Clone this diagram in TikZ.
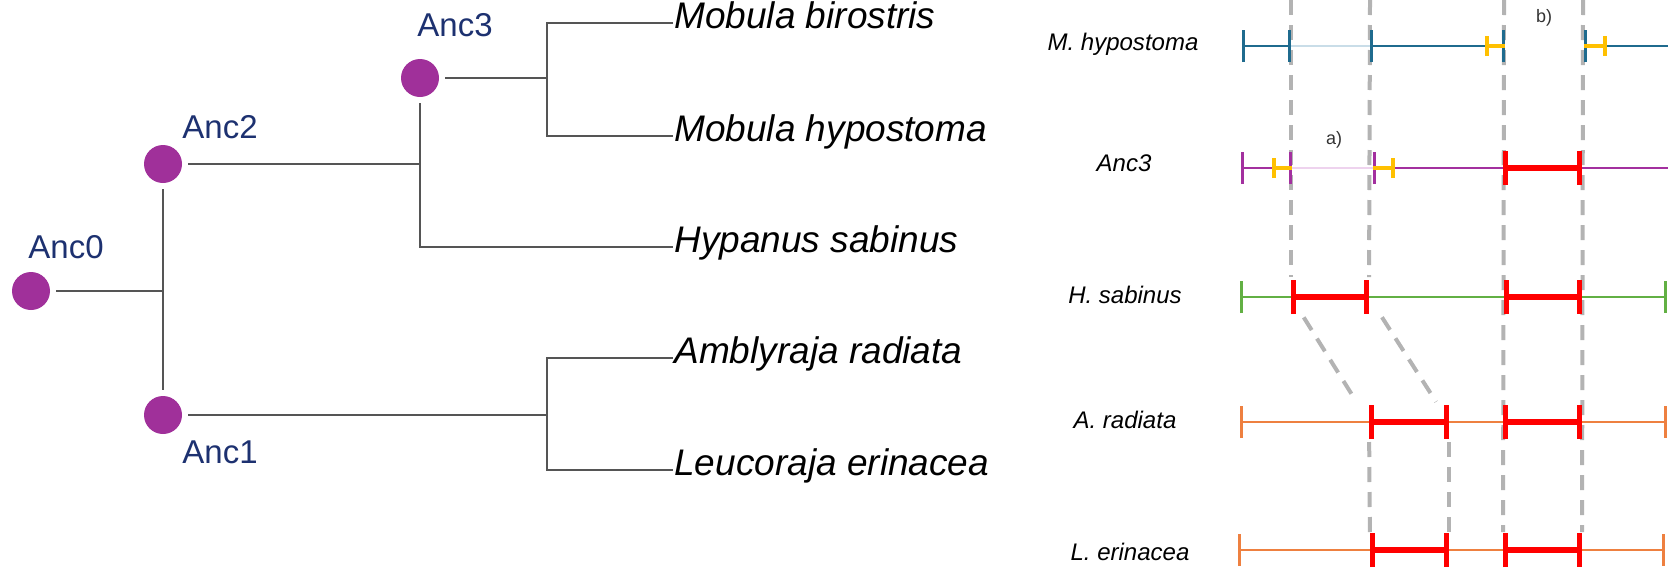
\documentclass[tikz,border=0pt]{standalone}
\usepackage{fontspec}
\setmainfont{Liberation Sans}
\usepackage{tikz}
\usetikzlibrary{arrows.meta,positioning,calc}
\definecolor{RayGray}{HTML}{555555}
\definecolor{RayPurple}{HTML}{A0309A}
\definecolor{RayNavy}{HTML}{1D3170}
\definecolor{RayGuide}{HTML}{B3B3B3}
\definecolor{RayTeal}{HTML}{1F6B8E}
\definecolor{RayTealPale}{HTML}{C9DDE8}
\definecolor{RayMagenta}{HTML}{A3309F}
\definecolor{RayMagentaPale}{HTML}{EED3EE}
\definecolor{RayGreen}{HTML}{62B044}
\definecolor{RayOrange}{HTML}{EE8040}
\definecolor{RayRed}{HTML}{FF0000}
\definecolor{RayYellow}{HTML}{FFC000}
\definecolor{RayNote}{HTML}{333333}

\begin{document}
\begin{tikzpicture}[x=0.5pt,y=-0.5pt,
    branch/.style={draw=RayGray, line width=1.25pt},
    ancnode/.style={circle, fill=RayPurple, minimum size=19pt, inner sep=0pt, outer sep=3pt},
    anclabel/.style={anchor=west, inner sep=0pt, text=RayNavy, font=\fontsize{16.5}{18}\selectfont},
    taxon/.style={anchor=mid west, inner sep=0.5pt, font=\itshape\fontsize{18.5}{20}\selectfont},
    rowlabel/.style={inner sep=0pt, font=\itshape\fontsize{12}{14}\selectfont},
    note/.style={inner sep=0pt, text=RayNote, font=\fontsize{9}{10}\selectfont},
    guide/.style={draw=RayGuide, line width=2pt, dash pattern=on 7.5pt off 5pt},
    span/.style={line width=1.4pt, {Bar[width=16pt]}-{Bar[width=16pt]}},
    hit/.style={draw=RayRed, line width=2.6pt, {Bar[width=17pt]}-{Bar[width=17pt]}},
    indel/.style={draw=RayYellow, line width=2pt},
    faint/.style={line width=1pt}]
    \useasboundingbox (0,0) rectangle (1668,568);

    % tree
    \node[ancnode] (anc0) at (31,291) {};
    \node[ancnode] (anc2) at (163,164) {};
    \node[ancnode] (anc1) at (163,415) {};
    \node[ancnode] (anc3) at (420,78) {};
    \node[anclabel] (lab0) at (28,247) {Anc0};
    \node[anclabel] (lab2) at (182,127) {Anc2};
    \node[anclabel] (lab1) at (182,452) {Anc1};
    \node[anclabel] (lab3) at (417,25) {Anc3};

    \node[taxon] (mbir) at (673,23) {Mobula birostris};
    \node[taxon] (mhyp) at (673,136) {Mobula hypostoma};
    \node[taxon] (hsab) at (673,247) {Hypanus sabinus};
    \node[taxon] (arad) at (673,358) {Amblyraja radiata};
    \node[taxon] (leri) at (673,470) {Leucoraja erinacea};
    \coordinate (split3) at (547,78);
    \coordinate (split1) at (547,415);

    \draw[branch] (anc0.east) -- (anc0.east -| anc2.south);
    \draw[branch] (anc2.south) -- (anc1.north);
    \draw[branch] (anc2.east) -- (anc2.east -| anc3.south);
    \draw[branch] (anc3.south) |- (hsab.mid west);
    \draw[branch] (anc3.east) -- (split3);
    \draw[branch] (mbir.mid west) -| (split3) |- (mhyp.mid west);
    \draw[branch] (anc1.east) -- (split1);
    \draw[branch] (arad.mid west) -| (split1) |- (leri.mid west);

    % synteny rows
    \node[rowlabel] (lbMH) at (1123,44) {M. hypostoma};
    \node[rowlabel] (lbA3) at (1124,163) {Anc3};
    \node[rowlabel] (lbHS) at (1125,295) {H. sabinus};
    \node[rowlabel] (lbAR) at (1125,420) {A. radiata};
    \node[rowlabel] (lbLE) at (1130,552) {L. erinacea};
    \node[note] (na) at (1334,140) {a)};
    \node[note] (nb) at (1544,18) {b)};

    \coordinate (topA) at (1291,0);
    \coordinate (topB) at (1370,0);
    \coordinate (topC) at (1504,0);
    \coordinate (topD) at (1583,0);
    \coordinate (hsA) at (1291,297);
    \coordinate (hsB) at (1369,297);
    \coordinate (arA) at (1369,422);
    \coordinate (arB) at (1449,422);
    \coordinate (leA) at (1370,550);
    \coordinate (leB) at (1449,550);
    \coordinate (leC) at (1503,550);
    \coordinate (leD) at (1582,550);

    \draw[guide, shorten >=10pt] (topA) -- (hsA);
    \draw[guide, shorten >=10pt] (topB) -- (hsB);
    \draw[guide, shorten >=9pt] (topC) -- (leC);
    \draw[guide, shorten >=9pt] (topD) -- (leD);
    \draw[guide, shorten <=12pt, shorten >=12pt] (hsA) -- (arA);
    \draw[guide, shorten <=12pt, shorten >=12pt] (hsB) -- (arB);
    \draw[guide, shorten <=10pt, shorten >=9pt] (arA) -- (leA);
    \draw[guide, shorten <=10pt, shorten >=9pt] (arB) -- (leB);

    \draw[span, draw=RayTeal] (1242,46) -- (1291,46);
    \draw[faint, draw=RayTealPale] (1291,46) -- (1370,46);
    \draw[span, draw=RayTeal] (1370,46) -- (1505,46);
    \draw[indel, {Bar[width=10pt]}-] (1485,46) -- (1505,46);
    \draw[span, draw=RayTeal, {Bar[width=16pt]}-] (1584,46) -- (1668,46);
    \draw[indel, -{Bar[width=10pt]}] (1584,46) -- (1607,46);

    \draw[span, draw=RayMagenta] (1241,168) -- (1292,168);
    \draw[indel, {Bar[width=10pt]}-] (1272,168) -- (1292,168);
    \draw[faint, draw=RayMagentaPale] (1292,168) -- (1373,168);
    \draw[span, draw=RayMagenta, {Bar[width=16pt]}-] (1373,168) -- (1668,168);
    \draw[indel, -{Bar[width=10pt]}] (1373,168) -- (1395,168);
    \draw[hit] (1503,168) -- (1582,168);

    \draw[span, draw=RayGreen] (1240,297) -- (1667,297);
    \draw[hit] (1291,297) -- (1369,297);
    \draw[hit] (1504,297) -- (1582,297);

    \draw[span, draw=RayOrange] (1240,422) -- (1667,422);
    \draw[hit] (1369,422) -- (1449,422);
    \draw[hit] (1503,422) -- (1582,422);

    \draw[span, draw=RayOrange] (1238,550) -- (1665,550);
    \draw[hit] (1370,550) -- (1449,550);
    \draw[hit] (1503,550) -- (1582,550);
\end{tikzpicture}
\end{document}
